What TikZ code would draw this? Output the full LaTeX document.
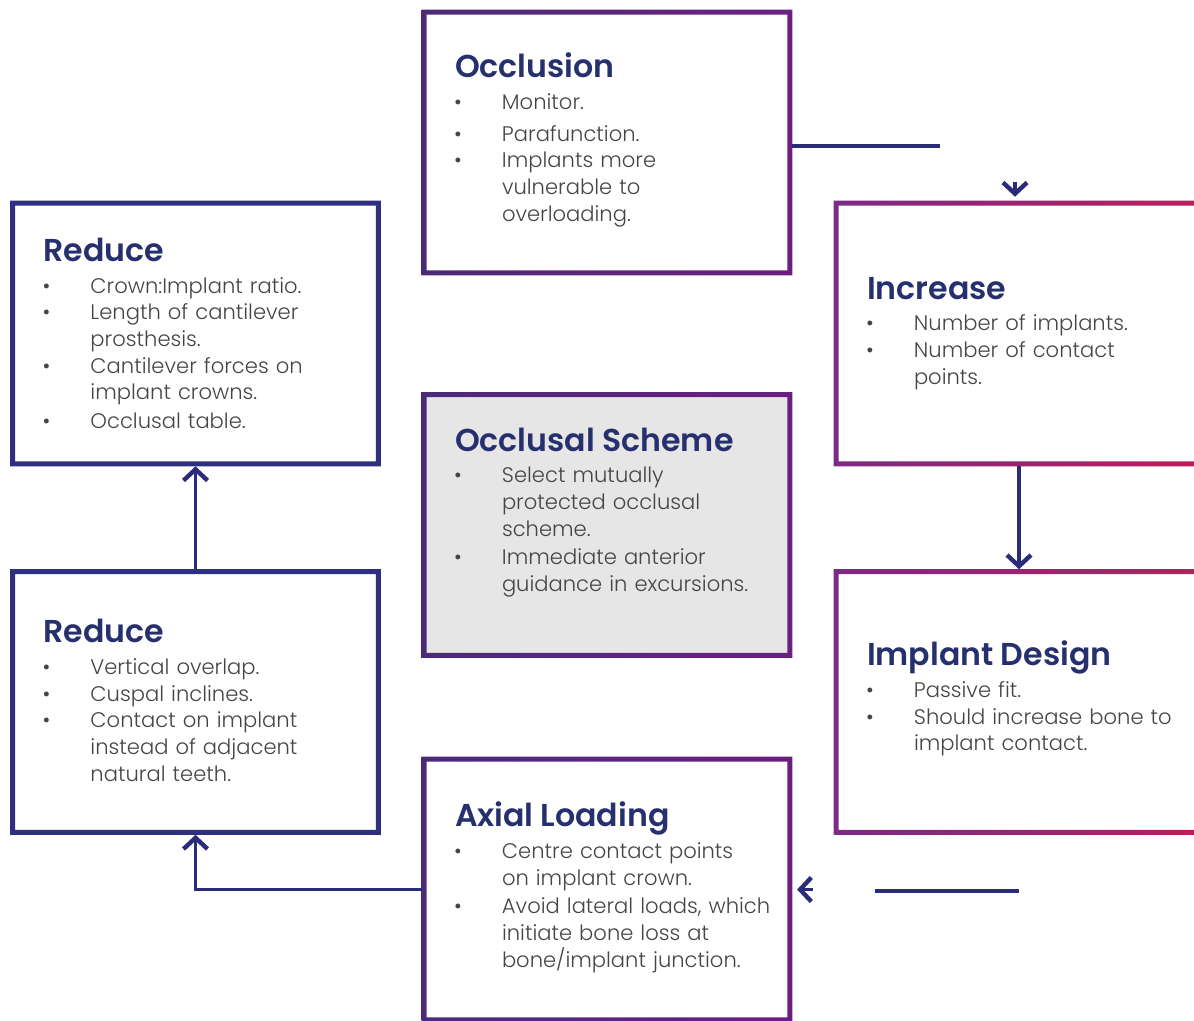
\documentclass[tikz,border=0pt]{standalone}
\usepackage{fontspec}
\setmainfont{Poppins Light}
\newfontfamily\titlefont{Poppins SemiBold}
\newfontfamily\bodyfont{Poppins Light}
\usetikzlibrary{arrows.meta,positioning}

\definecolor{titleblue}{HTML}{27306F}
\definecolor{bodygray}{HTML}{454545}
\definecolor{linknavy}{HTML}{2A2C7A}
\definecolor{boxnavy}{HTML}{2E2F7E}
\definecolor{boxpurpleL}{HTML}{4B2B78}
\definecolor{boxpurpleR}{HTML}{6B2080}
\definecolor{boxplumL}{HTML}{7B2A85}
\definecolor{boxplumR}{HTML}{BA1E5B}
\definecolor{schemegray}{HTML}{E6E6E6}

\newcommand{\boxtitle}[1]{\lineskip=0pt{\titlefont\fontsize{22.5}{26}\selectfont\color{titleblue}#1}\par\vskip 3.5pt}
\newcommand{\itm}[1]{\par\lineskip=0pt\noindent\makebox[11.75mm][l]{\hspace{-0.2mm}\textbullet}\begin{tabular}[t]{@{}l@{}}#1\end{tabular}}
\newcommand{\boxring}[3]{\shade[left color=#2, right color=#3, even odd rule]
  (#1.north west) rectangle (#1.south east)
  ([xshift=1.25mm,yshift=-1.25mm]#1.north west) rectangle ([xshift=-1.25mm,yshift=1.25mm]#1.south east);}

\begin{document}
\begin{tikzpicture}[x=0.25mm, y=-0.25mm, >=Latex,
    card/.style={rectangle, minimum width=92.5mm, minimum height=66.25mm, inner sep=0pt},
    txt/.style={anchor=west, align=left, text width=88mm, inner sep=0pt, text=bodygray,
      font=\bodyfont\fontsize{15}{19}\selectfont},
    link/.style={draw=linknavy, line width=0.9mm},
    chev/.style={-{Straight Barb[length=2.8mm, width=6mm, line width=1.1mm]}}]
  \useasboundingbox (0,0) rectangle (1194,1020);

  % boxes
  \node[card] (occl) at (607,142.5) {};
  \node[card] (red1) at (195.5,333.5) {};
  \node[card] (red2) at (195.5,702) {};
  \node[card, fill=schemegray] (sch) at (607,525) {};
  \node[card] (axl) at (607,889.5) {};
  \node[card] (inc) at (1019,333.5) {};
  \node[card] (impl) at (1019,702) {};

  \boxring{occl}{boxpurpleL}{boxpurpleR}
  \boxring{sch}{boxpurpleL}{boxpurpleR}
  \boxring{axl}{boxpurpleL}{boxpurpleR}
  \boxring{red1}{boxnavy}{boxnavy}
  \boxring{red2}{boxnavy}{boxnavy}
  \boxring{inc}{boxplumL}{boxplumR}
  \boxring{impl}{boxplumL}{boxplumR}

  % texts
  \node[txt] (occlT) at ([xshift=8.25mm,yshift=0.3mm]occl.west) {\boxtitle{Occlusion}
    \itm{Monitor.}\par\vskip 3.5pt
    \itm{Parafunction.}
    \itm{Implants more\\vulnerable to\\overloading.}};
  \node[txt] (red1T) at ([xshift=8.25mm,yshift=-0.9mm]red1.west) {\boxtitle{Reduce}
    \itm{Crown:Implant ratio.}
    \itm{Length of cantilever\\prosthesis.}
    \itm{Cantilever forces on\\implant crowns.}
    \itm{Occlusal table.}};
  \node[txt] (red2T) at ([xshift=8.25mm,yshift=-0.6mm]red2.west) {\boxtitle{Reduce}
    \itm{Vertical overlap.}
    \itm{Cuspal inclines.}
    \itm{Contact on implant\\instead of adjacent\\natural teeth.}};
  \node[txt] (schT) at ([xshift=8.25mm,yshift=2.9mm]sch.west) {\boxtitle{Occlusal Scheme}
    \itm{Select mutually\\protected occlusal\\scheme.}
    \itm{Immediate anterior\\guidance in excursions.}};
  \node[txt] (axlT) at ([xshift=8.25mm,yshift=0.2mm]axl.west) {\boxtitle{Axial Loading}
    \itm{Centre contact points\\on implant crown.}
    \itm{Avoid lateral loads, which\\initiate bone loss at\\bone/implant junction.}};
  \node[txt] (incT) at ([xshift=8.25mm,yshift=-0.3mm]inc.west) {\boxtitle{Increase}
    \itm{Number of implants.}
    \itm{Number of contact\\points.}};
  \node[txt] (implT) at ([xshift=8.25mm,yshift=0.6mm]impl.west) {\boxtitle{Implant Design}
    \itm{Passive fit.}
    \itm{Should increase bone to\\implant contact.}};

  % connectors
  \coordinate (occlEnd) at (940,146);
  \draw[link] (occl.east |- occlEnd) -- (occlEnd);
  \draw[link, chev] ([xshift=-1mm,yshift=4.6mm]inc.north) -- ([xshift=-1mm,yshift=1mm]inc.north);
  \draw[link, chev] (inc.south) -- (impl.north);
  \coordinate (axlGap) at (875,891);
  \draw[link] (impl.south |- axlGap) -- (axlGap);
  \draw[link, chev] ([xshift=5.2mm]axl.east) -- ([xshift=1.2mm]axl.east);
  \draw[link, chev] (axl.west) -| (red2.south);
  \draw[link, chev] (red2.north) -- (red1.south);
\end{tikzpicture}
\end{document}
